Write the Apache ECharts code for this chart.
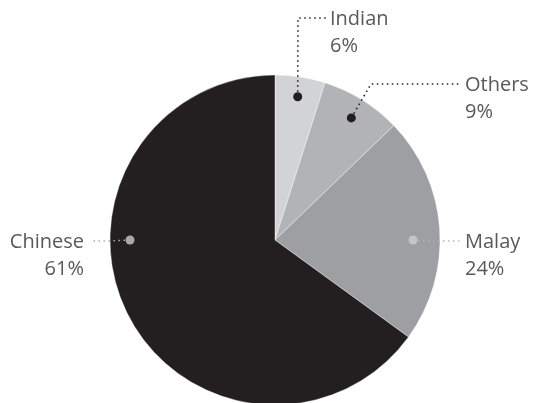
<!DOCTYPE html>
<html>
  <head>
    <meta charset="UTF-8">
    <title>Ethnic groups</title>
    <script src="https://cdn.jsdelivr.net/npm/echarts@6/dist/echarts.min.js"></script>
    <style>
      html, body { margin: 0; padding: 0; background: #fff; }
    </style>
  </head>
  <body>
    <div id="main" style="width: 533px;height:403px;"></div>
    <script type="text/javascript">
      // data
      var groups = ['Indian', 'Others', 'Malay', 'Chinese'];
      var shares = [4.9, 7.9, 22.2, 65.0];          // slice sizes as drawn
      var pctLabels = ['6%', '9%', '24%', '61%'];   // printed labels
      var dotRadius = [145, 144, 138, 145];         // callout dot, px from centre
      var dotAngle = [9, 32, 90, 270];              // degrees clockwise from top

      var sliceColors = ['#d1d3d4', '#b1b3b6', '#9d9fa2', '#231f20'];
      var dotColors = ['#231f20', '#231f20', '#c4c5c7', '#a7a9ac'];
      var lineColors = ['#231f20', '#231f20', '#b4b5b8', '#a7a9ac'];

      var cx = 275, cy = 240, R = 165;

      // where each label goes: elbow point, line end, text anchor
      var callout = [
        { elbow: [298, 18], end: [326, 18], x: 330, y: 6, align: 'left' },
        { elbow: [371, 84], end: [460, 84], x: 465, y: 72, align: 'left' },
        { elbow: [436, 241], end: [460, 241], x: 465, y: 229, align: 'left' },
        { elbow: [110, 241], end: [91, 241], x: 84, y: 229, align: 'right' }
      ];

      function dotPixel(i) {
        var a = dotAngle[i] * Math.PI / 180;
        return [cx + dotRadius[i] * Math.sin(a), cy - dotRadius[i] * Math.cos(a)];
      }

      // dotted leader lines from each dot to its label
      var leaders = callout.map(function (c, i) {
        return {
          type: 'polyline',
          z: 10,
          silent: true,
          shape: { points: [dotPixel(i), c.elbow, c.end] },
          style: { fill: null, stroke: lineColors[i], lineWidth: 1.6, lineDash: [1.5, 3.5] }
        };
      });

      var myChart = echarts.init(document.getElementById('main'));

      var option = {
        animation: false,
        textStyle: { fontFamily: 'Open Sans' },
        polar: { center: [cx, cy], radius: R },
        radiusAxis: { min: 0, max: R, show: false },
        angleAxis: { min: 0, max: 360, startAngle: 90, clockwise: true, show: false },
        graphic: leaders,
        series: [
          {
            type: 'pie',
            center: [cx, cy],
            radius: R,
            startAngle: 90,
            clockwise: true,
            silent: true,
            z: 1,
            label: { show: false },
            labelLine: { show: false },
            itemStyle: { borderColor: '#ffffff', borderWidth: 0.4 },
            data: groups.map(function (g, i) {
              return { name: g, value: shares[i], itemStyle: { color: sliceColors[i] } };
            })
          },
          {
            // callout dots with their labels
            type: 'scatter',
            coordinateSystem: 'polar',
            symbolSize: 9,
            silent: true,
            z: 20,
            itemStyle: { opacity: 1 },
            label: {
              show: true,
              color: '#58595b',
              fontSize: 20,
              lineHeight: 27,
              formatter: function (p) {
                return groups[p.dataIndex] + '\n' + pctLabels[p.dataIndex];
              }
            },
            labelLayout: function (params) {
              var c = callout[params.dataIndex];
              return { x: c.x, y: c.y, align: c.align, verticalAlign: 'top' };
            },
            data: dotRadius.map(function (r, i) {
              return {
                name: groups[i],
                value: [r, dotAngle[i]],
                itemStyle: { color: dotColors[i] }
              };
            })
          }
        ]
      };
      myChart.setOption(option, true);
    </script>
  </body>
</html>
